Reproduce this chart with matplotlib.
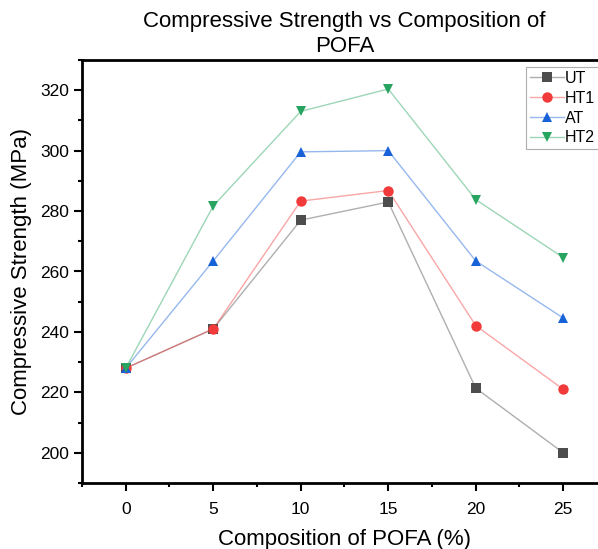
import numpy as np
import matplotlib.pyplot as plt
from matplotlib.ticker import MultipleLocator

plt.rcParams['font.family'] = ['Liberation Sans', 'DejaVu Sans']

# composition of POFA (%)
pofa = [0, 5, 10, 15, 20, 25]

# compressive strength (MPa) per treatment
ut = [228, 241, 277, 283, 221.4, 200]
ht1 = [228, 241, 283.3, 286.8, 242.1, 221]
at = [228, 263.5, 299.6, 300, 263.5, 244.6]
ht2 = [228, 281.7, 313, 320.4, 283.8, 264.6]

series = [
    ('UT', ut, '#4d4d4d', 's'),
    ('HT1', ht1, '#f23a3a', 'o'),
    ('AT', at, '#1762d9', '^'),
    ('HT2', ht2, '#27a45f', 'v'),
]

fig = plt.figure(figsize=(5.98, 5.49), dpi=100)
W, H = 598, 549
# axes box runs slightly past the right edge of the canvas
ax = fig.add_axes([82 / W, 1 - 483 / H, (607 - 82) / W, (483 - 60) / H])

proxies = []
for name, vals, col, mk in series:
    ax.plot(pofa, vals, color=col, alpha=0.45, lw=1.0, zorder=2)
    ax.plot(pofa, vals, ls='none', marker=mk, color=col, ms=7.5,
            markeredgewidth=0, zorder=3)
    # legend entry: faint line, solid marker
    ln, = ax.plot([], [], color=col, lw=1.0, label=name)
    mkr, = ax.plot([], [], ls='none', color=col, marker=mk, ms=7.5,
                   markeredgewidth=0)
    proxies.append((ln, mkr))

ax.set_xlim(-2.5, 27.5)
ax.set_ylim(190, 330)
ax.xaxis.set_major_locator(MultipleLocator(5))
ax.xaxis.set_minor_locator(MultipleLocator(2.5))
ax.yaxis.set_major_locator(MultipleLocator(20))
ax.yaxis.set_minor_locator(MultipleLocator(10))

for s in ax.spines.values():
    s.set_linewidth(2)
ax.tick_params(which='major', direction='out', length=6, width=1.5,
               labelsize=12.5, colors='black')
ax.tick_params(which='minor', direction='out', length=3, width=1.5)
ax.tick_params(axis='x', pad=8)

ax.set_xlabel('Composition of POFA (%)', fontsize=16, labelpad=8)
ax.set_ylabel('Compressive Strength (MPa)', fontsize=16, labelpad=6)
ax.set_title('Compressive Strength vs Composition of\nPOFA', fontsize=16,
             pad=6, linespacing=1.2)

leg = fig.legend(proxies, ['UT', 'HT1', 'AT', 'HT2'],
                 loc='upper left', bbox_to_anchor=(526 / W, 1 - 67 / H),
                 fontsize=11.5, frameon=True, fancybox=False,
                 handlelength=2.1, handletextpad=0.1, borderpad=0.25,
                 labelspacing=0.3, borderaxespad=0)
leg.get_frame().set_edgecolor('#999999')
leg.get_frame().set_linewidth(0.8)
for lh in leg.get_lines():
    if lh.get_marker() in ('None', None, ''):
        lh.set_alpha(0.45)

fig.savefig('out.png', dpi=100)
